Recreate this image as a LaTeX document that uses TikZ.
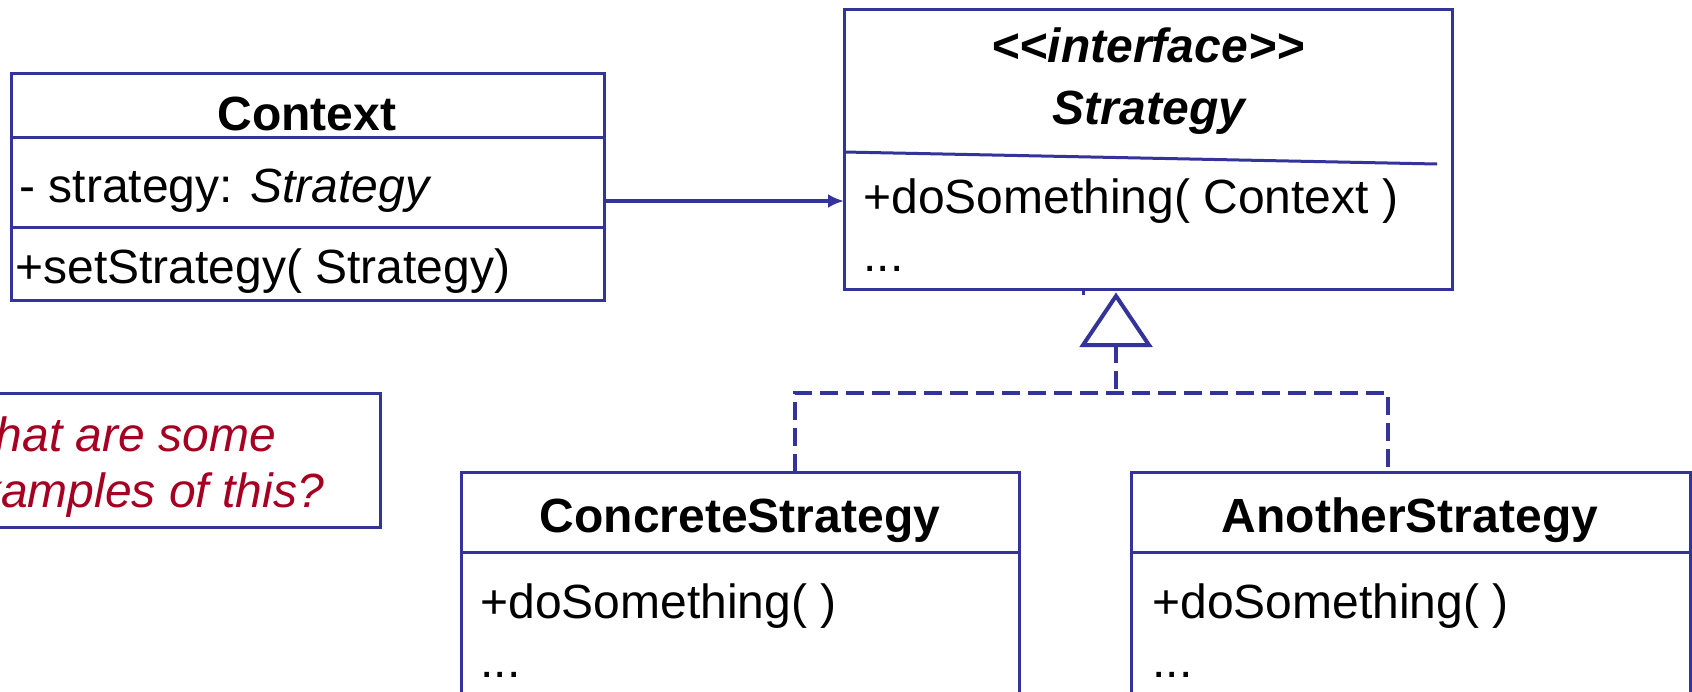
\documentclass[tikz,border=0pt]{standalone}
\usepackage{fontspec}
\setmainfont{Liberation Sans}
\usetikzlibrary{arrows.meta}
\usetikzlibrary{positioning}

\definecolor{umlblue}{RGB}{51,51,153}
\definecolor{noteRed}{RGB}{165,0,33}

\tikzset{
  compart/.style={draw=umlblue, line width=1.5pt, inner sep=0pt, outer sep=0pt},
  member/.style={anchor=base west, inner sep=0pt, font=\fontsize{24}{28}\selectfont},
  classname/.style={anchor=base, inner sep=0pt, font=\fontsize{24}{28}\selectfont\bfseries},
  assoc/.style={draw=umlblue, line width=1.6pt, -{Latex[length=8pt,width=7pt]}},
  realize/.style={draw=umlblue, line width=2pt, dash pattern=on 9pt off 4pt},
}

\begin{document}
\begin{tikzpicture}[x=0.5pt, y=-0.5pt]
  \clip (0,0) rectangle (1692,691);

  % Context class
  \node[compart, minimum width=296.5pt, minimum height=32pt] (ctxhead) at (307.5,105) {};
  \node[compart, minimum width=296.5pt, minimum height=45pt, below=0pt of ctxhead] (ctxattr) {};
  \node[compart, minimum width=296.5pt, minimum height=36.5pt, below=0pt of ctxattr] (ctxops) {};
  \node[classname] (ctxname) at (307,130) {Context};
  \node[member] (ctxfield) at (19,202) {- strategy: \textit{Strategy}};
  \node[member] (ctxset) at (15,283) {+setStrategy( Strategy)};

  % Strategy interface
  \node[compart, minimum width=304pt, minimum height=140pt] (strat) at (1148,149) {};
  \draw[umlblue, line width=1.5pt] ([yshift=-1.5pt]strat.west) -- ([xshift=-7.5pt,yshift=-7.5pt]strat.east);
  \node[classname, font=\fontsize{24}{28}\selectfont\bfseries\itshape] (stratster) at (1148,62) {<\kern0pt<interface>\kern0pt>};
  \node[classname, font=\fontsize{24}{28}\selectfont\bfseries\itshape] (stratname) at (1149,124) {Strategy};
  \node[member] (stratop) at (863,213) {+doSomething( Context )};
  \node[member] (stratmore) at (863,271) {...};

  % association
  \coordinate (assocstart) at ([yshift=-9.5pt]ctxattr.east);
  \draw[assoc] (assocstart) -- (assocstart -| strat.west);

  % note
  \node[compart, minimum width=220pt, minimum height=67pt] (quest) at (160,460) {};
  \node[member, font=\fontsize{24}{28}\selectfont\itshape, text=noteRed] (questa) at (-50,451) {What are some};
  \node[member, font=\fontsize{24}{28}\selectfont\itshape, text=noteRed] (questb) at (-50,507) {examples of this?};

  % ConcreteStrategy
  \node[compart, minimum width=279pt, minimum height=40pt] (csthead) at (740,512) {};
  \node[compart, minimum width=279pt, minimum height=84pt, below=0pt of csthead] (cstbody) {};
  \node[classname] (cstname) at (740,532) {ConcreteStrategy};
  \node[member] (cstop) at (480,618) {+doSomething( )};
  \node[member] (cstmore) at (480,677) {...};

  % AnotherStrategy
  \node[compart, minimum width=279.5pt, minimum height=40pt] (asthead) at (1410.5,512) {};
  \node[compart, minimum width=279.5pt, minimum height=84pt, below=0pt of asthead] (astbody) {};
  \node[classname] (astname) at (1410,532) {AnotherStrategy};
  \node[member] (astop) at (1152,618) {+doSomething( )};
  \node[member] (astmore) at (1152,677) {...};

  % realization
  \coordinate (realtip) at (1116,296);
  \coordinate (realbase) at ([yshift=-24.5pt]realtip);
  \coordinate (jmid) at (1116,393);
  \coordinate (jleft) at (795,393);
  \coordinate (jright) at (1388,393);
  \fill[umlblue] (1082,291) rectangle (1085,295);
  \draw[umlblue, line width=2pt] (realtip) -- ++(-33,49) -- ++(66,0) -- cycle;
  \draw[realize] (realbase) -- (jmid);
  \draw[realize] (csthead.north -| jleft) -- (jleft) -- (jright) -- (asthead.north -| jright);
\end{tikzpicture}
\end{document}
